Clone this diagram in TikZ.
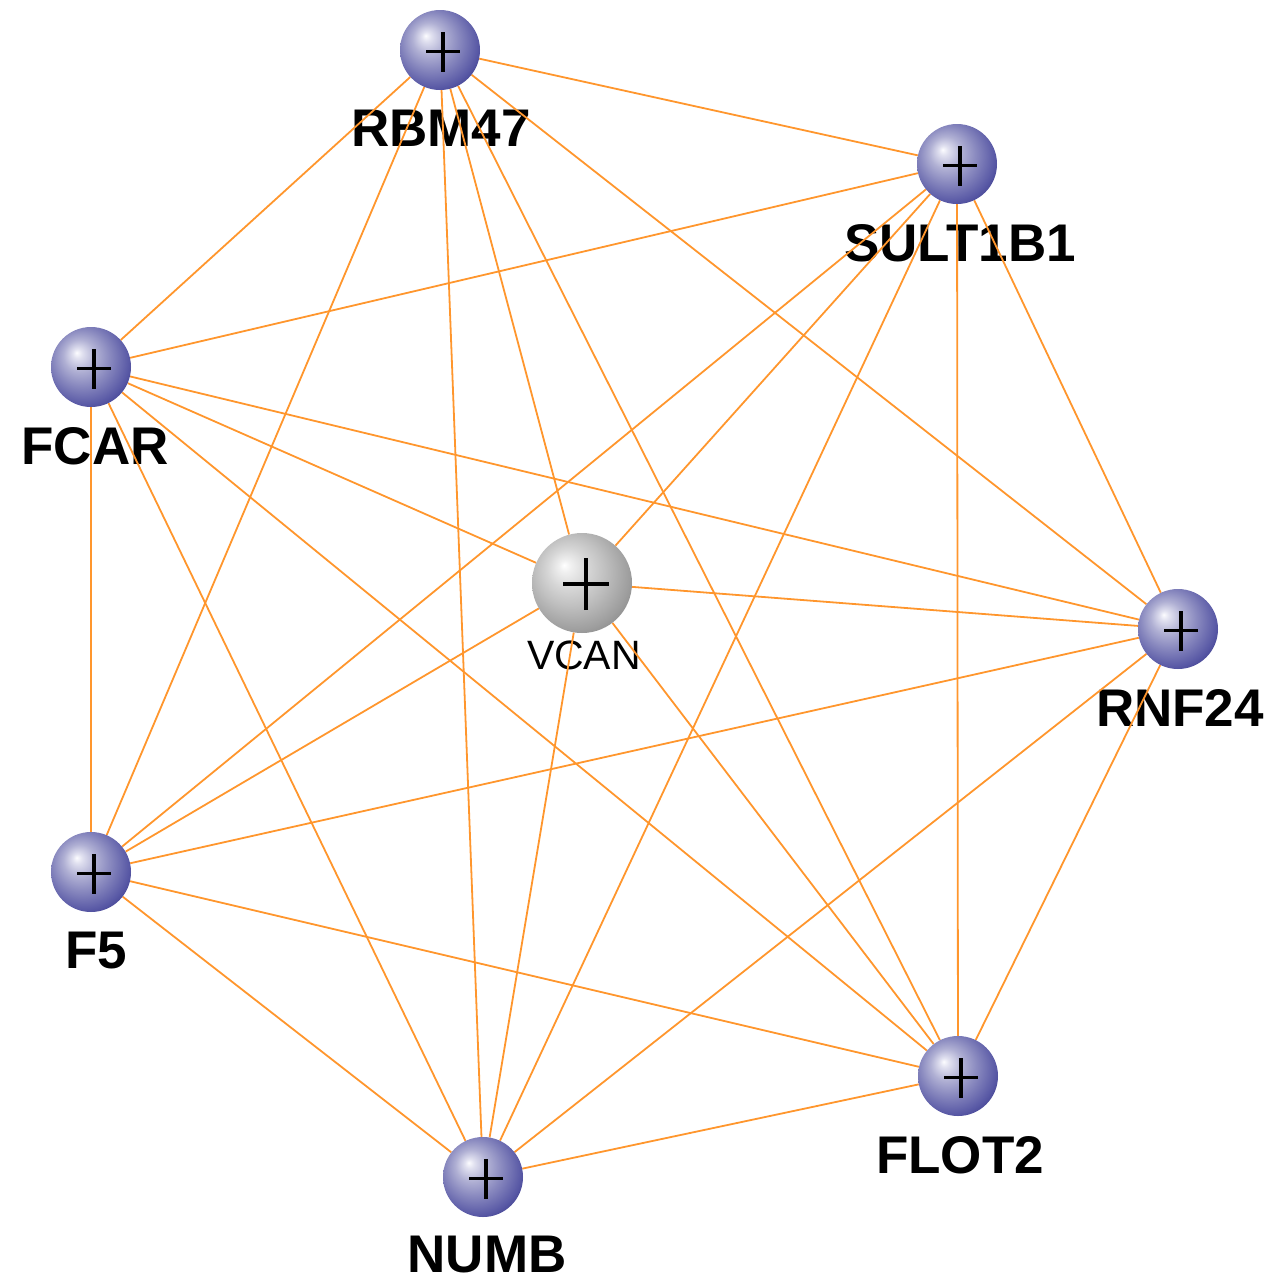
\documentclass[tikz,border=0pt]{standalone}
\usepackage{fontspec}
\setmainfont{Liberation Sans}
\usepackage{tikz}
\definecolor{edgeorange}{RGB}{255,150,45}
\pgfdeclareradialshading{geneball}{\pgfpoint{-9bp}{9bp}}{%
  rgb(0bp)=(0.99,0.99,1);
  rgb(3bp)=(0.88,0.88,0.94);
  rgb(10bp)=(0.69,0.69,0.83);
  rgb(17.5bp)=(0.54,0.54,0.75);
  rgb(27.5bp)=(0.35,0.35,0.65);
  rgb(35bp)=(0.2,0.2,0.52);
  rgb(38bp)=(0.08,0.08,0.4);
  rgb(50bp)=(0.08,0.08,0.4)}
\pgfdeclareradialshading{hubball}{\pgfpoint{-9bp}{9bp}}{%
  rgb(0bp)=(1,1,1);
  rgb(3bp)=(0.94,0.94,0.94);
  rgb(10bp)=(0.84,0.84,0.84);
  rgb(17.5bp)=(0.75,0.75,0.75);
  rgb(27.5bp)=(0.62,0.62,0.62);
  rgb(35bp)=(0.5,0.5,0.5);
  rgb(38bp)=(0.42,0.42,0.42);
  rgb(50bp)=(0.42,0.42,0.42)}
\tikzset{
gene/.style={
  circle,
  inner sep=0pt,
  minimum size=80pt,
  shade, shading=geneball,
  path picture={\draw[line width=3.3pt] ([xshift=3pt,yshift=-1.5pt]path picture bounding box.center) +(-17pt,0) -- +(17pt,0) +(0,-20pt) -- +(0,20pt);}
  }
}
\tikzset{
hub/.style={
  circle,
  inner sep=0pt,
  minimum size=100pt,
  shade, shading=hubball,
  path picture={\draw[line width=3.5pt] ([xshift=4pt,yshift=-1pt]path picture bounding box.center) +(-23pt,0) -- +(23pt,0) +(0,-26pt) -- +(0,26pt);}
  }
}
\tikzset{
genelabel/.style={inner sep=0pt, font=\fontsize{53}{60}\selectfont\bfseries},
hublabel/.style={inner sep=0pt, font=\fontsize{41}{48}\selectfont}
}
\tikzstyle{edge} = [draw,edgeorange,line width=1.8pt]

\begin{document}
\begin{tikzpicture}[x=1pt, y=-1pt]
	\useasboundingbox (0,0) rectangle (1276,1283);
	\pgfdeclarelayer{background}
	\pgfdeclarelayer{foreground}
	\pgfsetlayers{background,main,foreground}

	\begin{pgfonlayer}{background}
		%labels
		\node (rbm47-l) at (441, 128) [genelabel] {RBM47};
		\node (sult-l) at (960, 243) [genelabel] {SULT1B1};
		\node (fcar-l) at (95, 446) [genelabel] {FCAR};
		\node (vcan-l) at (584, 655) [hublabel] {VCAN};
		\node (rnf24-l) at (1180, 708) [genelabel] {RNF24};
		\node (f5-l) at (96, 951) [genelabel] {F5};
		\node (flot2-l) at (960, 1155) [genelabel] {FLOT2};
		\node (numb-l) at (487, 1255) [genelabel] {NUMB};
	\end{pgfonlayer}

	\begin{pgfonlayer}{foreground}
		%vertices
		\node (rbm47) at (440, 50) [gene] {};
		\node (sult) at (957, 164) [gene] {};
		\node (fcar) at (91, 367) [gene] {};
		\node (vcan) at (582, 583) [hub] {};
		\node (rnf24) at (1178, 629) [gene] {};
		\node (f5) at (91, 872) [gene] {};
		\node (flot2) at (958, 1076) [gene] {};
		\node (numb) at (483, 1177) [gene] {};
	\end{pgfonlayer}

	\begin{pgfonlayer}{main}
		%edges
		\draw (rbm47) edge[edge] (sult);
		\draw (rbm47) edge[edge] (fcar);
		\draw (rbm47) edge[edge] (vcan);
		\draw (rbm47) edge[edge] (rnf24);
		\draw (rbm47) edge[edge] (f5);
		\draw (rbm47) edge[edge] (flot2);
		\draw (rbm47) edge[edge] (numb);

		\draw (sult) edge[edge] (fcar);
		\draw (sult) edge[edge] (vcan);
		\draw (sult) edge[edge] (rnf24);
		\draw (sult) edge[edge] (f5);
		\draw (sult) edge[edge] (flot2);
		\draw (sult) edge[edge] (numb);

		\draw (fcar) edge[edge] (vcan);
		\draw (fcar) edge[edge] (rnf24);
		\draw (fcar) edge[edge] (f5);
		\draw (fcar) edge[edge] (flot2);
		\draw (fcar) edge[edge] (numb);

		\draw (vcan) edge[edge] (rnf24);
		\draw (vcan) edge[edge] (f5);
		\draw (vcan) edge[edge] (flot2);
		\draw (vcan) edge[edge] (numb);

		\draw (rnf24) edge[edge] (f5);
		\draw (rnf24) edge[edge] (flot2);
		\draw (rnf24) edge[edge] (numb);

		\draw (f5) edge[edge] (flot2);
		\draw (f5) edge[edge] (numb);

		\draw (flot2) edge[edge] (numb);
	\end{pgfonlayer}
\end{tikzpicture}
\end{document}
